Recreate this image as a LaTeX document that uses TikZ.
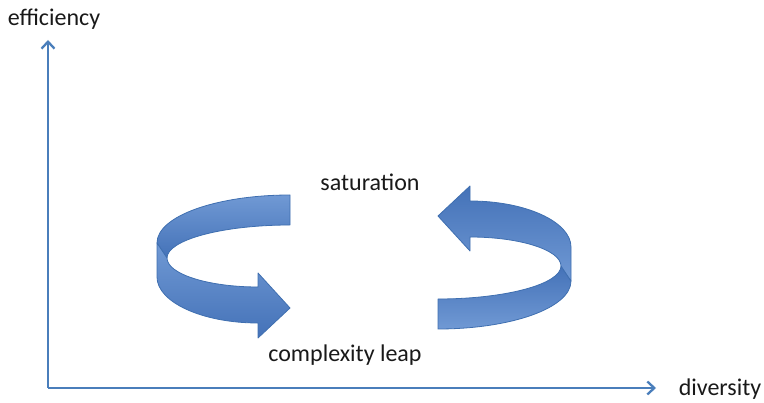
\documentclass[tikz,border=0pt]{standalone}
\usepackage{fontspec}
\setmainfont{Carlito}
\usetikzlibrary{arrows.meta}

\definecolor{axisblue}{HTML}{4A7EBB}
\definecolor{ribbonlight}{HTML}{7099D4}
\definecolor{ribbondark}{HTML}{4472B8}
\definecolor{ribbonedge}{HTML}{3F6FB0}

% one turning ribbon arrow, #1 = colour at top, #2 = colour at bottom
\newcommand{\turnarrow}[2]{%
  % back strip
  \shade[ribbon,top color=#1,bottom color=#2]
    (290,195) .. controls (217,195) and (157,216) .. (157,243)
    -- (167,258) .. controls (167,240) and (222,225) .. (290,225) -- cycle;
  % front band with head
  \shade[ribbon,top color=#1,bottom color=#2]
    (157,243) -- (157,277) .. controls (157,302) and (202,323) .. (258,323)
    -- (258,338) -- (290,308) -- (258,273) -- (258,287)
    .. controls (208,287) and (167,274) .. (167,258) -- cycle;
}

\begin{document}
\begin{tikzpicture}[x=1pt,y=-1pt,
  axis/.style={draw=axisblue,line width=2.3pt,-{Straight Barb[length=7pt,width=13pt,line width=2.3pt]}},
  ribbon/.style={draw=ribbonedge,line width=0.8pt,line join=round},
  lbl/.style={font=\fontsize{24}{28}\selectfont,text=black!90,inner sep=0pt}]
\useasboundingbox (0,0) rectangle (764,403);
%%%%%%%%%%%%%%%%%%%%%%%%%%%%%%%%
%% axes
%%%%%%%%%%%%%%%%%%%%%%%%%%%%%%%%
\coordinate (origin) at (48,388);
\coordinate (effTip) at (48,40);
\coordinate (divTip) at (656,388);
\draw[axis] (origin) -- (effTip);
\draw[axis] (origin) -- (divTip);

\node[lbl] (efficiency) at (54,19) {efficiency};
\node[lbl] (diversity) at (720,389) {diversity};
%%%%%%%%%%%%%%%%%%%%%%%%%%%%%%%%
%% cycle arrows
%%%%%%%%%%%%%%%%%%%%%%%%%%%%%%%%
\turnarrow{ribbonlight}{ribbondark}
\begin{scope}[rotate around={180:(364,262)}]
\turnarrow{ribbondark}{ribbonlight}
\end{scope}

\node[lbl] (saturation) at (370,182) {saturation};
\node[lbl] (leap) at (345,355) {complexity leap};
\end{tikzpicture}
\end{document}
